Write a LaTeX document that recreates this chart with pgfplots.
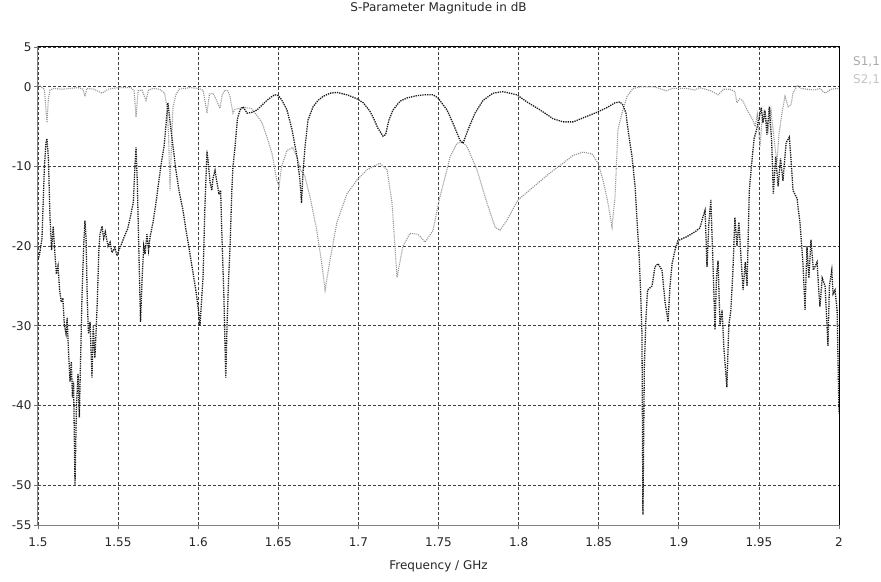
\documentclass[border=0pt]{standalone}
\usepackage{fontspec}
\setmainfont{DejaVu Sans}
\usepackage{pgfplots}
\pgfplotsset{compat=1.18}
\usetikzlibrary{calc}
\definecolor{sDark}{RGB}{25,25,25}
\definecolor{sGray}{RGB}{150,150,150}
\definecolor{legGray}{RGB}{170,170,170}

\pgfplotstableread{
f dB
1.5000 -21.7
1.5010 -21.0
1.5025 -19.0
1.5040 -10.0
1.5050 -7.0
1.5056 -6.5
1.5065 -9.0
1.5075 -16.5
1.5085 -20.5
1.5095 -17.5
1.5105 -20.8
1.5115 -23.5
1.5125 -22.5
1.5135 -25.5
1.5145 -27.0
1.5155 -26.5
1.5165 -30.0
1.5175 -31.0
1.5182 -29.0
1.5190 -33.0
1.5200 -37.0
1.5208 -34.5
1.5215 -39.0
1.5222 -37.0
1.5231 -50.0
1.5240 -40.0
1.5250 -36.0
1.5258 -41.5
1.5265 -35.0
1.5275 -26.0
1.5285 -20.0
1.5293 -16.8
1.5300 -19.0
1.5308 -27.0
1.5315 -31.0
1.5325 -29.5
1.5337 -36.5
1.5345 -30.0
1.5355 -34.0
1.5362 -31.0
1.5370 -27.0
1.5380 -20.5
1.5387 -18.5
1.5400 -17.5
1.5410 -19.0
1.5420 -18.2
1.5437 -20.0
1.5450 -19.5
1.5462 -20.8
1.5480 -20.2
1.5493 -21.2
1.5505 -20.5
1.5520 -19.8
1.5531 -19.2
1.5545 -18.5
1.5560 -17.8
1.5580 -16.0
1.5595 -14.5
1.5605 -10.0
1.5612 -7.6
1.5620 -12.0
1.5630 -21.0
1.5640 -29.5
1.5650 -24.0
1.5660 -20.0
1.5668 -21.0
1.5680 -18.5
1.5690 -20.5
1.5700 -18.8
1.5718 -17.0
1.5737 -14.5
1.5755 -11.7
1.5774 -9.0
1.5787 -7.5
1.5800 -4.5
1.5811 -2.0
1.5825 -4.5
1.5843 -7.5
1.5861 -10.5
1.5880 -13.0
1.5905 -15.5
1.5924 -18.0
1.5945 -20.5
1.5968 -23.4
1.5985 -25.5
1.5999 -27.6
1.6011 -30.0
1.6030 -24.0
1.6042 -15.0
1.6055 -8.0
1.6065 -10.0
1.6074 -12.0
1.6085 -13.0
1.6092 -11.5
1.6105 -10.5
1.6117 -12.0
1.6130 -13.5
1.6140 -13.0
1.6150 -20.0
1.6160 -26.0
1.6172 -36.5
1.6180 -30.0
1.6190 -24.0
1.6199 -20.0
1.6210 -13.0
1.6217 -10.0
1.6230 -7.5
1.6245 -4.0
1.6261 -2.9
1.6280 -2.5
1.6305 -3.3
1.6336 -3.2
1.6367 -2.9
1.6398 -2.3
1.6429 -1.7
1.6461 -1.2
1.6479 -1.0
1.6500 -1.1
1.6520 -1.6
1.6554 -2.9
1.6586 -5.4
1.6617 -8.8
1.6635 -11.7
1.6645 -14.6
1.6654 -10.8
1.6667 -7.5
1.6685 -4.2
1.6717 -2.5
1.6748 -1.7
1.6779 -1.2
1.6823 -0.8
1.6866 -0.7
1.6929 -1.0
1.6991 -1.5
1.7030 -2.0
1.7070 -3.0
1.7091 -3.8
1.7122 -5.2
1.7154 -6.2
1.7170 -6.0
1.7190 -4.2
1.7216 -2.9
1.7260 -1.8
1.7303 -1.4
1.7366 -1.1
1.7416 -1.0
1.7466 -1.0
1.7497 -1.4
1.7553 -2.9
1.7591 -4.6
1.7634 -6.7
1.7653 -7.1
1.7684 -5.4
1.7728 -3.3
1.7778 -1.7
1.7840 -0.8
1.7903 -0.6
1.7990 -1.0
1.8052 -1.9
1.8134 -2.9
1.8215 -4.0
1.8277 -4.4
1.8340 -4.4
1.8414 -3.8
1.8489 -3.2
1.8552 -2.6
1.8602 -2.0
1.8633 -1.9
1.8652 -2.3
1.8670 -3.3
1.8683 -5.4
1.8708 -8.8
1.8727 -12.5
1.8739 -16.7
1.8752 -21.0
1.8762 -26.0
1.8770 -31.0
1.8776 -53.7
1.8785 -35.0
1.8795 -29.0
1.8805 -25.5
1.8833 -25.0
1.8851 -22.6
1.8870 -22.2
1.8895 -23.0
1.8914 -27.0
1.8933 -29.5
1.8945 -25.0
1.8958 -22.2
1.8976 -20.5
1.8995 -19.3
1.9051 -18.8
1.9101 -18.2
1.9132 -17.7
1.9151 -16.3
1.9164 -15.5
1.9176 -22.6
1.9188 -17.0
1.9200 -14.2
1.9213 -22.0
1.9226 -30.5
1.9235 -24.0
1.9245 -21.8
1.9257 -30.0
1.9270 -28.0
1.9282 -33.0
1.9300 -37.7
1.9312 -30.0
1.9325 -28.0
1.9338 -23.0
1.9350 -16.4
1.9363 -20.0
1.9375 -17.0
1.9390 -22.0
1.9401 -25.5
1.9415 -22.0
1.9426 -25.0
1.9440 -13.0
1.9455 -9.6
1.9470 -6.5
1.9485 -5.4
1.9500 -4.0
1.9515 -2.6
1.9525 -4.5
1.9538 -3.0
1.9550 -6.0
1.9565 -2.5
1.9580 -7.0
1.9590 -13.4
1.9605 -8.8
1.9620 -12.5
1.9635 -9.0
1.9650 -11.8
1.9670 -7.0
1.9690 -6.3
1.9700 -9.0
1.9713 -13.0
1.9738 -14.0
1.9757 -17.2
1.9775 -22.2
1.9788 -28.0
1.9800 -20.0
1.9812 -24.0
1.9825 -19.2
1.9840 -23.0
1.9863 -22.0
1.9875 -26.0
1.9881 -27.6
1.9895 -24.0
1.9913 -25.0
1.9925 -30.0
1.9931 -32.5
1.9940 -25.0
1.9955 -23.0
1.9963 -26.0
1.9975 -25.5
1.9988 -28.0
2.0000 -41.0
}\sOneOne

\pgfplotstableread{
f dB
1.5000 0.3
1.5020 0.0
1.5040 -0.3
1.5050 -3.0
1.5056 -4.5
1.5065 -1.5
1.5075 -0.4
1.5100 -0.2
1.5150 -0.3
1.5200 -0.2
1.5250 -0.1
1.5280 -0.3
1.5293 -1.2
1.5305 -0.2
1.5350 -0.3
1.5400 -0.8
1.5437 -0.3
1.5500 -0.1
1.5580 -0.1
1.5600 -0.5
1.5612 -3.8
1.5625 -0.5
1.5649 -0.4
1.5674 -1.7
1.5690 -0.4
1.5720 -0.2
1.5760 -0.3
1.5790 -0.8
1.5805 -2.5
1.5815 -6.0
1.5824 -13.0
1.5835 -6.0
1.5843 -2.5
1.5861 -1.0
1.5880 -0.3
1.5950 -0.1
1.6000 -0.2
1.6030 -0.4
1.6055 -3.3
1.6070 -0.9
1.6092 -0.8
1.6110 -1.5
1.6136 -2.7
1.6150 -1.0
1.6167 -0.4
1.6185 -0.5
1.6199 -1.3
1.6217 -3.3
1.6230 -2.8
1.6261 -2.7
1.6290 -2.6
1.6330 -2.7
1.6367 -3.6
1.6398 -4.5
1.6429 -6.3
1.6461 -8.4
1.6490 -11.7
1.6505 -12.5
1.6520 -10.0
1.6554 -8.0
1.6590 -7.6
1.6620 -9.0
1.6640 -10.5
1.6654 -10.8
1.6667 -11.3
1.6700 -14.0
1.6740 -18.0
1.6770 -22.0
1.6792 -25.5
1.6823 -21.7
1.6866 -17.0
1.6929 -13.4
1.6991 -11.7
1.7054 -10.4
1.7134 -9.6
1.7179 -10.4
1.7210 -14.6
1.7241 -23.9
1.7278 -20.0
1.7322 -18.4
1.7372 -18.5
1.7416 -19.5
1.7466 -18.0
1.7491 -15.5
1.7509 -13.8
1.7553 -10.4
1.7572 -8.8
1.7615 -7.1
1.7647 -6.9
1.7678 -7.5
1.7740 -10.4
1.7803 -14.6
1.7853 -17.6
1.7884 -18.0
1.7928 -16.7
1.7996 -14.2
1.8090 -12.6
1.8196 -10.8
1.8277 -9.6
1.8340 -8.6
1.8402 -8.2
1.8458 -8.4
1.8496 -9.6
1.8527 -11.7
1.8558 -14.6
1.8583 -17.6
1.8602 -13.8
1.8620 -5.4
1.8645 -3.3
1.8677 -1.2
1.8714 -0.2
1.8760 0.0
1.8850 0.0
1.8920 -0.5
1.8960 -0.2
1.9050 -0.2
1.9100 -0.4
1.9130 -0.1
1.9200 -0.5
1.9245 -1.0
1.9280 -0.3
1.9320 -0.3
1.9350 -0.6
1.9363 -2.0
1.9380 -1.5
1.9401 -1.8
1.9426 -2.9
1.9444 -3.5
1.9463 -4.2
1.9476 -5.0
1.9490 -3.5
1.9507 -7.5
1.9520 -4.0
1.9535 -2.8
1.9557 -5.5
1.9575 -2.9
1.9600 -7.5
1.9613 -9.5
1.9625 -6.0
1.9644 -3.3
1.9663 -1.2
1.9682 -2.5
1.9700 -2.3
1.9713 -0.8
1.9740 0.2
1.9760 -0.2
1.9800 -0.3
1.9850 -0.4
1.9880 -0.2
1.9913 -0.8
1.9950 -0.3
2.0000 -0.2
}\sTwoOne

\begin{document}
\begin{tikzpicture}[font=\fontsize{12pt}{14pt}\selectfont]
\begin{axis}[
  scale only axis, width=801pt, height=478pt,
  xmin=1.5, xmax=2, ymin=-55, ymax=5,
  xtick={1.5,1.55,1.6,1.65,1.7,1.75,1.8,1.85,1.9,1.95,2},
  ytick={5,0,-10,-20,-30,-40,-50,-55},
  /pgf/number format/assume math mode=true,
  tick pos=left, tick align=outside, major tick length=4pt,
  tick style={black!55, line width=0.8pt},
  axis line style={black!50, line width=1pt},
  xmajorgrids, ymajorgrids,
  grid style={black!75, line width=0.8pt, dash pattern=on 3pt off 2pt},
  ticklabel style={text=black!85},
  xticklabel style={yshift=-5pt},
  yticklabel style={xshift=1pt},
  title={S-Parameter Magnitude in dB},
  title style={at={(0.5,1)}, anchor=center, yshift=33pt, text=black!85},
  xlabel={Frequency / GHz},
  xlabel style={at={(0.5,0)}, anchor=center, yshift=-41pt, text=black!85},
  clip=true,
]
\addplot[sGray, line width=1.1pt, densely dotted] table[x=f, y=dB] {\sTwoOne};
\addplot[sDark, line width=1.3pt, densely dotted] table[x=f, y=dB] {\sOneOne};
\coordinate (sw) at (rel axis cs:0,0);
\coordinate (ne) at (rel axis cs:1,1);
\coordinate (se) at (rel axis cs:1,0);
\coordinate (nw) at (rel axis cs:0,1);
\end{axis}
\draw[black, line width=1pt] (nw) -- (ne) -- (se);
\node[anchor=west, text=legGray, inner sep=0pt] at ($(ne)+(14pt,-15pt)$) {S1,1};
\node[anchor=west, text=legGray!70, inner sep=0pt] at ($(ne)+(14pt,-33pt)$) {S2,1};
\pgfresetboundingbox
\path ($(sw)+(-38pt,-56pt)$) rectangle ($(ne)+(42pt,47pt)$);
\end{tikzpicture}
\end{document}
